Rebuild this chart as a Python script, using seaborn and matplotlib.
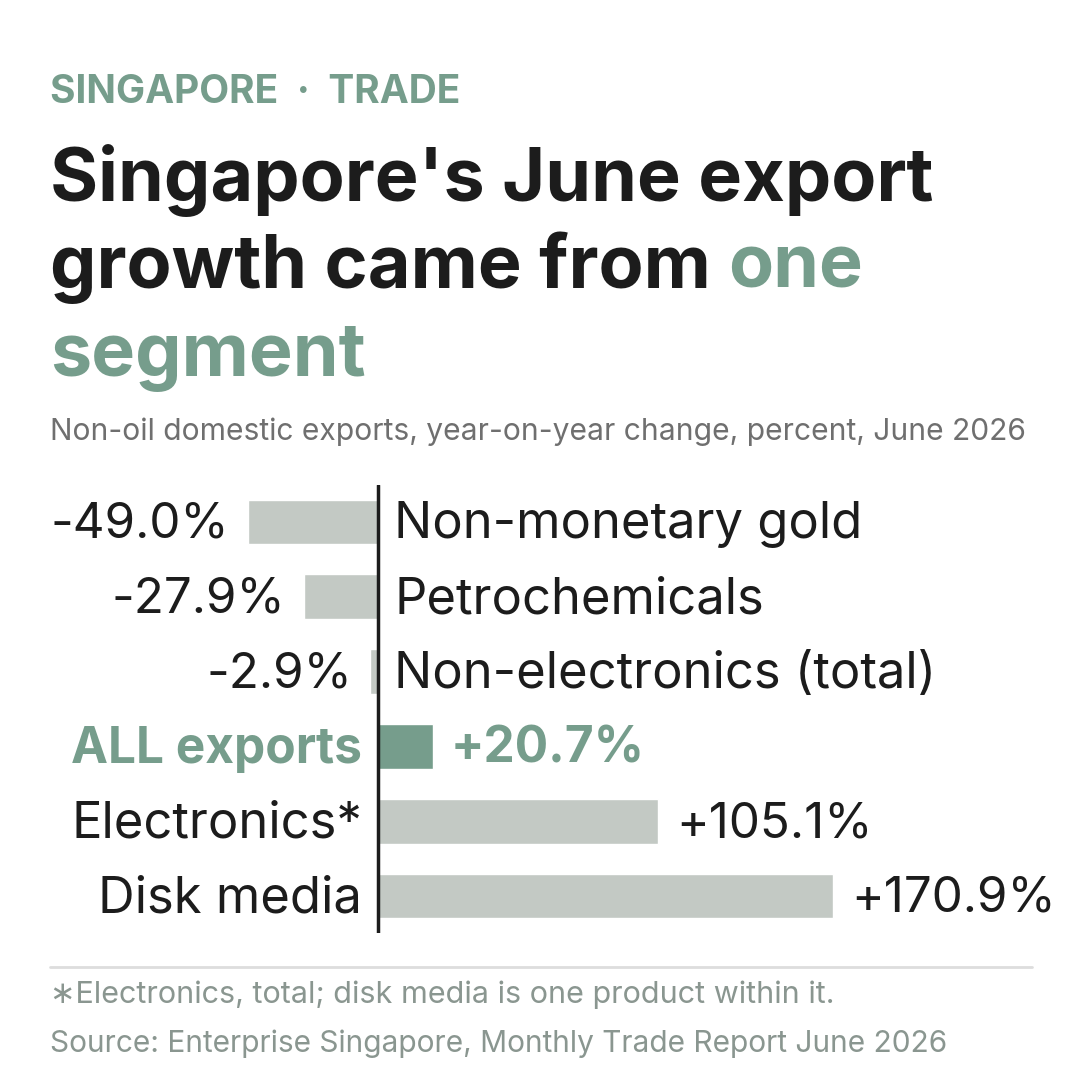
import matplotlib
matplotlib.use("Agg")
import matplotlib.pyplot as plt
import seaborn as sns
import pandas as pd

# data
categories = ["Non-monetary gold", "Petrochemicals", "Non-electronics (total)",
              "ALL exports", "Electronics*", "Disk media"]
values = [-49.0, -27.9, -2.9, 20.7, 105.1, 170.9]
highlight = [False, False, False, True, False, False]

GREEN = "#769d8c"
GREY_BAR = "#c3c9c4"
INK = "#1c1c1c"
MUTED = "#8a9690"

sns.set_theme(style="white")
plt.rcParams["font.family"] = ["Inter", "DejaVu Sans"]

df = pd.DataFrame({"category": categories, "value": values})
palette = {c: (GREEN if h else GREY_BAR) for c, h in zip(categories, highlight)}

fig = plt.figure(figsize=(10.8, 10.8), dpi=100)
fig.patch.set_facecolor("white")

def fy(px):
    return 1 - px / 1080

# axes: zero line at x=378px, 2.662 px per percent point
ppp = 2.662
ax = fig.add_axes([0, fy(933.4), 1, 448.8 / 1080])
sns.barplot(data=df, x="value", y="category", hue="category", palette=palette,
            legend=False, width=0.6, orient="h", ax=ax, saturation=1)
ax.set_xlim(-378 / ppp, 702 / ppp)
ax.set_ylim(5.5, -0.5)
ax.axvline(0, color=INK, lw=2.5)
ax.axis("off")

cat_size = 36.5
val_size = 35.5
for i, (cat, v, h) in enumerate(zip(categories, values, highlight)):
    weight = "bold" if h else "normal"
    col = GREEN if h else INK
    csize = 35.7 if h else cat_size
    vsize = 35.7 if h else val_size
    txt = f"{v:+.1f}%"
    if v < 0:
        ax.annotate(txt, (v, i), xytext=(-18, -3), textcoords="offset pixels",
                    ha="right", va="center", fontsize=vsize, color=col, weight=weight)
        ax.annotate(cat, (0, i), xytext=(16, -3), textcoords="offset pixels",
                    ha="left", va="center", fontsize=csize, color=col, weight=weight)
    else:
        ax.annotate(txt, (v, i), xytext=(18, -3), textcoords="offset pixels",
                    ha="left", va="center", fontsize=vsize, color=col, weight=weight)
        ax.annotate(cat, (0, i), xytext=(-16, -3), textcoords="offset pixels",
                    ha="right", va="center", fontsize=csize, color=col, weight=weight)

# header
fig.text(50 / 1080, fy(103), "SINGAPORE  \u00b7  TRADE", fontsize=28, weight="bold",
         color=GREEN, va="baseline", ha="left")
tsize = 53
fig.text(50 / 1080, fy(201), "Singapore's June export", fontsize=tsize, weight="bold",
         color=INK, va="baseline", ha="left")
t2 = fig.text(50 / 1080, fy(288), "growth came from ", fontsize=tsize, weight="bold",
              color=INK, va="baseline", ha="left")
fig.canvas.draw()
bb = t2.get_window_extent()
fig.text(bb.x1 / 1080, fy(288), "one", fontsize=tsize, weight="bold",
         color=GREEN, va="baseline", ha="left")
fig.text(50 / 1080, fy(376), "segment", fontsize=tsize, weight="bold",
         color=GREEN, va="baseline", ha="left")
fig.text(50 / 1080, fy(440), "Non-oil domestic exports, year-on-year change, percent, June 2026",
         fontsize=21.6, color="#6f6f6f", va="baseline", ha="left")

# footer
fig.add_artist(plt.Line2D([50 / 1080, 1032 / 1080], [fy(967), fy(967)], color="#dddddd", lw=2))
fig.text(50 / 1080, fy(1003), "\u2217Electronics, total; disk media is one product within it.",
         fontsize=22, color=MUTED, va="baseline", ha="left")
fig.text(50 / 1080, fy(1052), "Source: Enterprise Singapore, Monthly Trade Report June 2026",
         fontsize=21.5, color=MUTED, va="baseline", ha="left")

fig.savefig("out.png", dpi=100, facecolor="white")
